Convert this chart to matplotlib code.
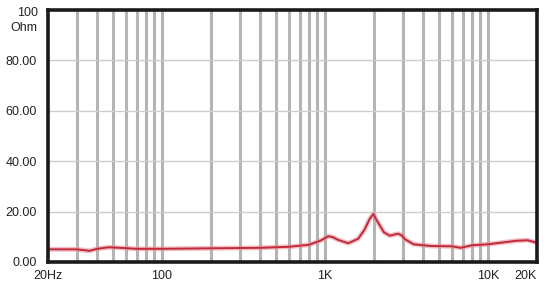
import numpy as np
import matplotlib
matplotlib.use('Agg')
import matplotlib.pyplot as plt

plt.rcParams['font.family'] = ['Liberation Sans', 'DejaVu Sans']

# impedance curve (Hz, Ohm)
freq = [20, 30, 36, 40, 47, 55, 70, 100, 200, 400, 600, 800, 950, 1050, 1120, 1200,
        1390, 1600, 1750, 1880, 1980, 2100, 2300, 2500, 2800, 2950, 3100, 3500,
        4500, 6000, 6800, 8000, 10000, 15000, 17500, 20000]
ohm = [5.0, 5.0, 4.4, 5.2, 5.8, 5.6, 5.2, 5.2, 5.4, 5.6, 6.0, 6.8, 8.6, 10.2, 9.8, 8.8,
       7.4, 9.2, 12.8, 17.0, 19.0, 16.0, 11.8, 10.4, 11.2, 10.6, 9.0, 7.0,
       6.3, 6.2, 5.6, 6.6, 7.0, 8.4, 8.6, 7.6]

x_ticks = [20, 100, 1000, 10000, 20000]
x_labels = ['20Hz', '100', '1K', '10K', '20K']
y_ticks = [0, 20, 40, 60, 80]
y_labels = ['0.00', '20.00', '40.00', '60.00', '80.00']

fig = plt.figure(figsize=(5.5, 2.85), dpi=100)
ax = fig.add_axes([0.0873, 0.081, 0.889, 0.884])

# vertical grid on every 1-2-3..9 step
vgrid = []
for dec in [10, 100, 1000, 10000]:
    for m in range(1, 10):
        f = m * dec
        if 20 < f < 20000:
            vgrid.append(f)
for f in vgrid:
    ax.axvline(f, color='#b4b4b4', lw=2.2, zorder=1)
for y in [20, 40, 60, 80]:
    ax.axhline(y, color='#cccccc', lw=1.0, zorder=1)

ax.plot(freq, ohm, color='#e8959c', lw=3.5, alpha=0.6, zorder=3)
ax.plot(freq, ohm, color='#c02a3a', lw=1.4, zorder=4)

ax.set_xscale('log')
ax.set_xlim(20, 20000)
ax.set_ylim(0, 100)

ax.set_xticks(x_ticks)
ax.set_xticklabels(x_labels)
ax.xaxis.set_minor_locator(matplotlib.ticker.NullLocator())
ax.set_yticks(y_ticks)
ax.set_yticklabels(y_labels)
ax.tick_params(axis='both', length=0, labelsize=9, colors='#222222')
ax.tick_params(axis='y', pad=8)
ax.tick_params(axis='x', pad=6)
ax.get_xticklabels()[-1].set_horizontalalignment('right')
ax.text(-0.021, 1.01, '100\nOhm', transform=ax.transAxes, ha='right', va='top',
        multialignment='right', fontsize=9, color='#222222', linespacing=1.3)

for s in ax.spines.values():
    s.set_linewidth(2.6)
    s.set_color('#1a1a1a')
    s.set_zorder(5)

fig.savefig('out.png', dpi=100)
